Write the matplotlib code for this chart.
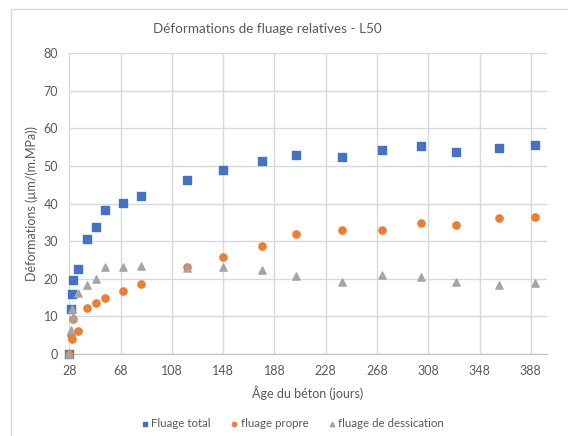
import matplotlib
matplotlib.use("Agg")
import matplotlib.pyplot as plt
from matplotlib.patches import Rectangle

plt.rcParams['font.family'] = ['Lato', 'DejaVu Sans']

# ages (jours) and deformations (µm/(m.MPa))
ages = [28, 29, 30, 31, 35, 42, 49, 56, 70, 84,
        120, 148, 178, 205, 241, 272, 302, 330, 363, 391]
fluage_total = [0, 12.0, 16.0, 19.8, 22.6, 30.7, 33.9, 38.3, 40.2, 42.1,
                46.3, 49.0, 51.4, 52.8, 52.3, 54.2, 55.4, 53.8, 54.9, 55.5]
fluage_propre = [0, 5.0, 3.9, 9.3, 6.2, 12.3, 13.6, 14.8, 16.7, 18.5,
                 23.1, 25.9, 28.8, 31.8, 33.1, 33.1, 34.8, 34.4, 36.3, 36.4]
fluage_dessication = [0, 6.4, 12.0, 9.8, 16.3, 18.4, 20.0, 23.2, 23.2, 23.4,
                      22.8, 23.1, 22.3, 20.7, 19.2, 20.9, 20.4, 19.1, 18.4, 18.9]

xticks = list(range(28, 389, 40))
yticks = list(range(0, 81, 10))

txt = '#595959'
fig = plt.figure(figsize=(5.68, 4.36), dpi=100)
fig.patches.append(Rectangle((11 / 568, -0.1), 1.2, 1 - 9 / 436 + 0.1,
                             transform=fig.transFigure, fill=False,
                             edgecolor='#D9D9D9', linewidth=1))
ax = fig.add_axes([0.122, 0.188, 0.8405, 0.690])

ax.scatter(ages, fluage_total, marker='s', s=27, color='#4472C4',
           label='Fluage total', zorder=3, clip_on=False)
ax.scatter(ages, fluage_propre, marker='o', s=27, color='#ED7D31',
           label='fluage propre', zorder=3, clip_on=False)
ax.scatter(ages, fluage_dessication, marker='^', s=27, color='#A5A5A5',
           label='fluage de dessication', zorder=3, clip_on=False)

ax.set_xlim(28, 400.4)
ax.set_ylim(0, 80)
ax.set_xticks(xticks)
ax.set_yticks(yticks)
ax.grid(True, color='#D9D9D9', linewidth=1)
ax.set_axisbelow(True)
for s in ['top', 'right', 'left']:
    ax.spines[s].set_visible(False)
ax.spines['bottom'].set_color('#BFBFBF')
ax.tick_params(length=0, labelsize=9, colors=txt, pad=8)

fig.text(267 / 568, 1 - 29 / 436, 'Déformations de fluage relatives - L50',
         fontsize=9.7, color=txt, ha='center', va='center')
ax.set_xlabel('Âge du béton (jours)', fontsize=9, color=txt, labelpad=6)
ax.set_ylabel('Déformations (µm/(m.MPa))', fontsize=9, color=txt, labelpad=4)

leg = ax.legend(loc='center', bbox_to_anchor=(0.466, -0.232), ncol=3,
                frameon=False, fontsize=8.3, handletextpad=0.1,
                handlelength=0.9, columnspacing=1.6, markerscale=0.6)
for t in leg.get_texts():
    t.set_color(txt)

fig.savefig('out.png', dpi=100)
